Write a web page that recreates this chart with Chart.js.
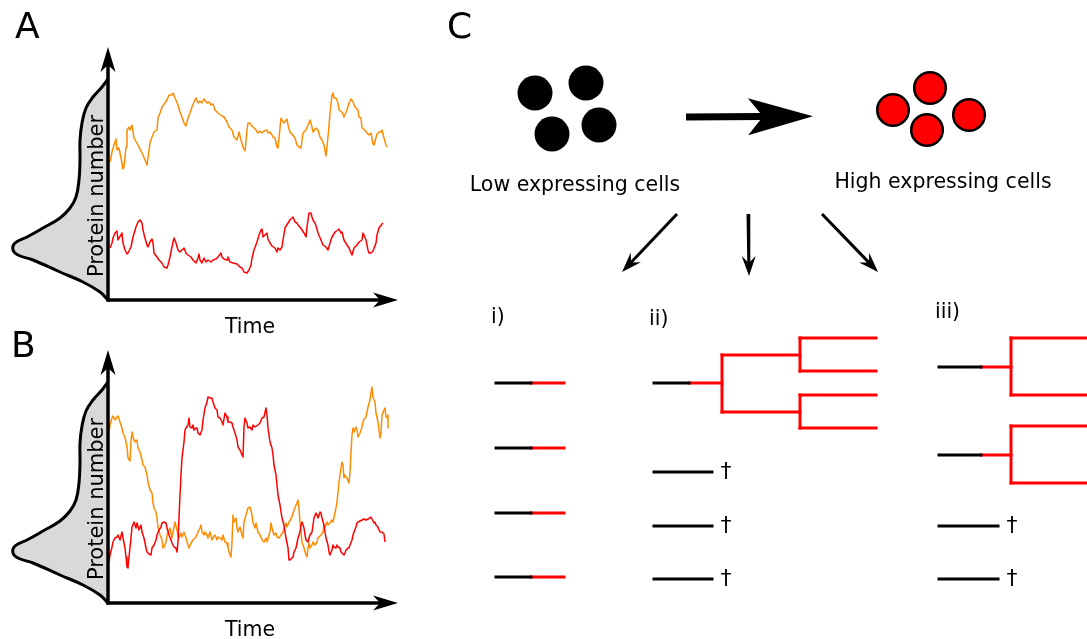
<!DOCTYPE html>
<html>
<head>
<meta charset="utf-8">
<script src="https://cdn.jsdelivr.net/npm/chart.js@4.4.0/dist/chart.umd.min.js"></script>
<style>
  html, body { margin: 0; padding: 0; background: #fff; }
  #wrap { position: relative; width: 1087px; height: 639px; }
  #wrap canvas { position: absolute; left: 0; }
</style>
</head>
<body>
<div id="wrap">
  <canvas id="figC" width="1087" height="639" style="top:0"></canvas>
  <canvas id="panelA" width="420" height="340" style="top:0"></canvas>
  <canvas id="panelB" width="420" height="340" style="top:303px"></canvas>
</div>
<script>
// ---- panels A / B : protein number vs time (time, protein) ----
const aOrange = [[2,138],[4,148],[6,155],[8,161],[9,150],[11,152],[13,142],[15,131],[16,133],[18,153],[19,170],[21,173],[22,170],[24,175],[26,162],[30,155],[34,147],[37,140],[39,135],[40,142],[42,157],[44,163],[46,168],[49,170],[50,182],[52,187],[54,193],[57,197],[59,200],[61,205],[64,205],[65,207],[67,202],[70,195],[72,188],[74,183],[76,177],[78,174],[80,182],[82,187],[84,193],[86,198],[88,202],[90,197],[92,199],[94,197],[96,201],[99,197],[101,198],[103,195],[105,196],[107,190],[110,187],[114,184],[116,183],[119,178],[121,173],[124,170],[126,163],[129,160],[131,168],[133,160],[135,153],[137,149],[139,170],[140,177],[142,177],[143,175],[145,173],[148,170],[150,167],[152,169],[154,167],[156,169],[159,170],[160,167],[162,168],[164,165],[165,163],[167,162],[169,153],[170,152],[171,162],[173,182],[174,180],[176,177],[179,181],[180,175],[182,168],[184,166],[187,162],[189,155],[191,153],[193,152],[195,167],[198,170],[200,175],[202,180],[204,173],[205,168],[208,172],[210,170],[212,163],[214,160],[216,155],[218,144],[219,153],[221,174],[222,187],[224,205],[225,207],[226,202],[228,202],[230,197],[231,190],[234,188],[236,183],[239,190],[241,197],[243,201],[245,198],[247,193],[250,190],[251,183],[253,182],[254,172],[257,170],[259,167],[261,165],[263,167],[265,156],[266,155],[269,166],[271,168],[273,168],[274,170],[276,162],[278,155],[279,153]];
const aRed = [[2,52],[4,57],[5,62],[7,67],[9,69],[10,60],[11,62],[13,65],[14,67],[15,57],[17,50],[19,46],[20,47],[23,53],[25,63],[28,73],[30,78],[32,80],[34,77],[35,70],[37,62],[39,55],[40,53],[42,58],[44,61],[45,57],[46,47],[49,43],[51,40],[54,37],[56,33],[59,32],[60,35],[62,43],[64,53],[66,62],[68,57],[70,50],[72,48],[74,50],[76,52],[78,47],[80,45],[83,43],[85,40],[88,37],[90,42],[91,46],[92,40],[94,37],[96,42],[98,38],[100,40],[103,38],[105,40],[108,41],[110,43],[113,47],[114,43],[116,41],[119,40],[120,43],[122,38],[125,37],[129,36],[132,33],[134,32],[136,28],[139,27],[141,30],[143,35],[144,42],[146,50],[149,58],[151,65],[153,70],[154,71],[155,63],[157,65],[159,67],[160,61],[162,57],[164,54],[167,52],[169,48],[170,52],[172,50],[174,53],[175,60],[177,72],[180,77],[182,80],[184,82],[185,83],[187,78],[189,77],[190,75],[192,73],[194,70],[196,67],[198,63],[199,73],[201,87],[203,87],[204,83],[205,80],[207,77],[209,71],[210,67],[213,60],[215,55],[218,53],[220,50],[222,57],[224,63],[227,68],[230,70],[231,71],[233,67],[234,68],[236,60],[239,55],[241,52],[243,47],[244,45],[246,52],[249,55],[251,58],[254,60],[255,67],[256,65],[258,60],[260,50],[261,47],[263,47],[265,49],[268,57],[269,65],[271,72],[274,76],[275,77]];
const bOrange = [[1,170],[2,178],[4,185],[5,187],[7,183],[9,186],[10,187],[12,181],[14,175],[15,170],[17,166],[19,156],[20,145],[22,142],[23,161],[24,171],[25,166],[27,161],[29,163],[30,155],[32,151],[34,143],[35,138],[37,136],[39,128],[40,121],[42,113],[44,110],[45,100],[46,95],[48,91],[49,85],[50,76],[52,68],[54,63],[55,55],[56,56],[58,61],[59,68],[60,71],[62,75],[64,65],[65,71],[67,81],[69,73],[70,68],[71,65],[73,70],[74,66],[76,71],[78,65],[80,58],[81,55],[83,60],[85,63],[88,66],[90,71],[92,75],[93,78],[94,71],[96,68],[97,71],[99,68],[100,65],[102,71],[104,63],[105,65],[107,68],[109,63],[110,66],[112,65],[114,63],[115,68],[117,61],[119,60],[120,55],[122,48],[123,46],[124,61],[125,88],[126,81],[128,85],[129,75],[130,71],[132,76],[134,68],[135,65],[136,81],[138,88],[140,95],[142,96],[144,88],[145,80],[147,75],[148,80],[150,71],[152,68],[154,63],[156,61],[158,65],[159,61],[161,68],[162,71],[163,80],[164,75],[166,68],[168,70],[169,66],[171,65],[173,68],[175,71],[176,75],[178,80],[179,76],[181,81],[184,86],[186,93],[189,100],[190,103],[191,95],[192,81],[193,71],[194,61],[196,55],[198,48],[199,46],[200,55],[201,60],[202,55],[204,58],[205,61],[207,58],[209,61],[210,65],[213,68],[215,71],[216,78],[217,76],[219,81],[220,78],[222,80],[224,83],[225,81],[227,90],[228,95],[229,101],[230,111],[231,121],[233,135],[234,141],[235,138],[236,125],[237,128],[238,126],[239,125],[241,120],[242,131],[243,151],[244,168],[245,175],[246,171],[248,176],[249,173],[250,166],[251,168],[252,170],[254,176],[255,181],[256,184],[258,186],[259,191],[260,196],[262,203],[263,210],[264,216],[265,206],[266,203],[267,201],[268,190],[270,181],[271,173],[272,165],[273,170],[274,188],[276,193],[277,195],[278,186],[279,185],[280,188],[280,175]];
const bRed = [[1,41],[2,48],[4,56],[5,61],[7,65],[9,66],[10,68],[12,63],[14,71],[15,65],[17,55],[18,46],[19,36],[20,35],[21,46],[23,65],[24,76],[26,81],[28,75],[29,80],[31,73],[33,78],[34,71],[36,65],[38,55],[39,51],[41,49],[43,48],[44,55],[46,58],[48,63],[49,68],[51,73],[53,76],[54,80],[56,81],[58,80],[59,75],[61,68],[63,63],[64,60],[66,56],[68,55],[69,51],[70,61],[71,85],[72,108],[73,128],[74,145],[76,161],[77,173],[78,175],[80,178],[81,185],[82,176],[84,175],[85,178],[86,173],[88,175],[89,175],[90,170],[92,168],[94,173],[95,183],[97,195],[99,201],[100,206],[102,205],[104,205],[105,201],[107,195],[109,193],[110,186],[112,185],[114,181],[115,178],[117,190],[119,186],[120,181],[122,181],[124,180],[125,176],[127,170],[129,163],[130,156],[132,153],[134,148],[135,146],[136,176],[137,185],[139,180],[140,175],[142,176],[144,173],[145,178],[147,176],[150,178],[152,180],[154,185],[156,186],[158,195],[159,188],[160,175],[161,168],[162,161],[164,155],[165,148],[166,138],[168,128],[169,118],[170,108],[172,98],[173,91],[174,85],[176,78],[177,71],[178,65],[180,55],[181,43],[182,43],[184,45],[185,46],[186,51],[188,55],[189,60],[190,65],[192,71],[193,78],[194,81],[196,75],[197,68],[198,63],[200,61],[201,65],[202,68],[204,71],[205,78],[206,85],[208,90],[209,88],[210,85],[212,91],[213,90],[214,85],[216,78],[217,71],[218,65],[220,58],[221,51],[222,48],[224,53],[225,58],[226,56],[228,55],[229,58],[230,56],[232,55],[233,51],[234,50],[236,48],[237,50],[238,53],[240,55],[241,55],[242,58],[244,63],[245,68],[246,71],[248,76],[249,80],[250,81],[252,82],[254,83],[256,84],[258,83],[260,84],[262,85],[263,86],[264,84],[266,80],[267,81],[268,78],[270,76],[271,73],[272,71],[274,71],[275,70],[276,69],[277,61]];

// stationary distribution drawn sideways on the protein axis
const densityW = [0,8,25,48,75,90,95,93,81,65,48,38,32,29,28,28,26,22,15,6,0];
const densityP = [0,8,18,28,40,45,50,57,63,72,82,92,103,120,140,160,177,192,203,213,221];
// axis shafts stop where the arrow heads begin
const timeEnd = 272;
const proteinTop = 235;

// ---- panel C schematic ----
const lowCellX = [535, 586, 552, 599];
const lowCellY = [93, 83, 134, 125];
const highCellX = [930, 893, 969, 927];
const highCellY = [88, 110, 115, 130];

// i) all lineages switch: black part, then red part
const switchRows = [383, 448, 513, 577];
const switchX = [495, 531, 565];
// ii) one lineage switches and divides twice, the rest die
const growX = [653, 689, 722, 800, 877];
const growRoot = 383;
const growSplit1 = [355, 412];
const growSplit2 = [[338, 371], [395, 428]];
const dieRows2 = [472, 526, 579];
const dieX2 = [653, 713, 726];
// iii) two lineages switch and divide once
const branchX = [938, 981, 1011, 1090];
const branchRoots = [367, 455];
const branchSplit = [[338, 395], [426, 483]];
const dieRows3 = [526, 579];
const dieX3 = [938, 999, 1012];

const FONT = '"DejaVu Sans", sans-serif';
const RED = '#ff0000';
const ORANGE = '#ff8c00';

// head = [length, half width, notch depth]; the shaft ends in the notch
function arrowHead(ctx, end, from, len, half, notch, color) {
  const ang = Math.atan2(end.y - from.y, end.x - from.x);
  ctx.save();
  ctx.translate(end.x, end.y);
  ctx.rotate(ang);
  ctx.translate(notch, 0);
  ctx.beginPath();
  ctx.moveTo(0, 0);
  ctx.lineTo(-len, -half);
  ctx.lineTo(-notch, 0);
  ctx.lineTo(-len, half);
  ctx.closePath();
  ctx.fillStyle = color;
  ctx.fill();
  ctx.restore();
}

const arrowHeads = {
  id: 'arrowHeads',
  afterDatasetsDraw(chart) {
    chart.data.datasets.forEach((ds, i) => {
      if (!ds.head) return;
      const pts = chart.getDatasetMeta(i).data;
      arrowHead(chart.ctx, pts[pts.length - 1], pts[pts.length - 2], ds.head[0], ds.head[1], ds.head[2], ds.borderColor);
    });
  }
};

function textLayer(items) {
  return {
    id: 'textLayer',
    afterDraw(chart) {
      const ctx = chart.ctx, xs = chart.scales.x, ys = chart.scales.y;
      items.forEach(t => {
        ctx.save();
        ctx.translate(xs.getPixelForValue(t.x), ys.getPixelForValue(t.y));
        if (t.rot) ctx.rotate(t.rot);
        ctx.font = (t.size || 20.5) + 'px ' + FONT;
        ctx.fillStyle = '#000';
        ctx.textAlign = t.align || 'center';
        ctx.textBaseline = t.base || 'alphabetic';
        ctx.fillText(t.text, 0, 0);
        ctx.restore();
      });
    }
  };
}

const baseOptions = (xmin, xmax, ymin, ymax, rev) => ({
  responsive: false,
  animation: false,
  events: [],
  layout: { padding: 0, autoPadding: false },
  plugins: { legend: { display: false }, tooltip: { enabled: false } },
  scales: {
    x: { type: 'linear', display: false, min: xmin, max: xmax },
    y: { type: 'linear', display: false, min: ymin, max: ymax, reverse: !!rev }
  }
});

const toXY = arr => arr.map(p => ({ x: p[0], y: p[1] }));

function line(points, color, width, extra) {
  return Object.assign({
    data: points, showLine: true, pointRadius: 0,
    borderColor: color, borderWidth: width, fill: false
  }, extra || {});
}

function panel(id, orange, red) {
  return new Chart(document.getElementById(id), {
    type: 'scatter',
    data: {
      datasets: [
        line([{ x: 0, y: -1.5 }, { x: 0, y: proteinTop }], '#000', 3.5, { head: [25, 7.5, 18] }),
        line([{ x: -1.5, y: 0 }, { x: timeEnd, y: 0 }], '#000', 3.5, { head: [25, 7.5, 18] }),
        line(toXY(red), RED, 1.5, { borderJoinStyle: 'round' }),
        line(toXY(orange), ORANGE, 1.5, { borderJoinStyle: 'round' }),
        line(densityW.map((w, i) => ({ x: -w, y: densityP[i] })), '#000', 3,
             { fill: 'shape', backgroundColor: '#d9d9d9', tension: 0.4 })
      ]
    },
    options: baseOptions(-108, 312, -40, 300),
    plugins: [arrowHeads, textLayer([
      { text: 'Time', x: 142, y: -33 },
      { text: 'Protein number', x: -5, y: 104, rot: -Math.PI / 2, size: 21 }
    ])]
  });
}

panel('panelA', aOrange, aRed);
panel('panelB', bOrange, bRed);

// schematic lineages
const sketch = [];
const seg = (x1, y1, x2, y2, c) => sketch.push(line([{ x: x1, y: y1 }, { x: x2, y: y2 }], c, 3, { borderCapStyle: 'square' }));

switchRows.forEach(y => { seg(switchX[0] + 1, y, switchX[1], y, '#000'); seg(switchX[1], y, switchX[2] - 1, y, RED); });

seg(growX[0] + 1, growRoot, growX[1], growRoot, '#000');
seg(growX[1], growRoot, growX[2], growRoot, RED);
seg(growX[2], growSplit1[0], growX[2], growSplit1[1], RED);
growSplit1.forEach((y, k) => {
  seg(growX[2], y, growX[3], y, RED);
  seg(growX[3], growSplit2[k][0], growX[3], growSplit2[k][1], RED);
  growSplit2[k].forEach(y2 => seg(growX[3], y2, growX[4] - 1, y2, RED));
});
dieRows2.forEach(y => seg(dieX2[0] + 1, y, dieX2[1] - 1, y, '#000'));

branchRoots.forEach((y, k) => {
  seg(branchX[0] + 1, y, branchX[1], y, '#000');
  seg(branchX[1], y, branchX[2], y, RED);
  seg(branchX[2], branchSplit[k][0], branchX[2], branchSplit[k][1], RED);
  branchSplit[k].forEach(y2 => seg(branchX[2], y2, branchX[3], y2, RED));
});
dieRows3.forEach(y => seg(dieX3[0] + 1, y, dieX3[1] - 1, y, '#000'));

const labelsC = [
  { text: 'A', x: 15, y: 38, size: 36, align: 'left' },
  { text: 'B', x: 11, y: 357, size: 36, align: 'left' },
  { text: 'C', x: 447, y: 38, size: 36, align: 'left' },
  { text: 'Low expressing cells', x: 575, y: 191 },
  { text: 'High expressing cells', x: 943, y: 188 },
  { text: 'i)', x: 491, y: 323, align: 'left' },
  { text: 'ii)', x: 649, y: 325, align: 'left' },
  { text: 'iii)', x: 935, y: 318, align: 'left' }
];
dieRows2.forEach(y => labelsC.push({ text: '\u2020', x: dieX2[2], y: y, base: 'middle', size: 22 }));
dieRows3.forEach(y => labelsC.push({ text: '\u2020', x: dieX3[2], y: y, base: 'middle', size: 22 }));

new Chart(document.getElementById('figC'), {
  type: 'scatter',
  data: {
    datasets: [
      { data: lowCellX.map((x, i) => ({ x, y: lowCellY[i] })), pointRadius: 17.5, pointBackgroundColor: '#000', pointBorderWidth: 0 },
      { data: highCellX.map((x, i) => ({ x, y: highCellY[i] })), pointRadius: 15.8, pointBackgroundColor: RED, pointBorderColor: '#000', pointBorderWidth: 2.5 },
      line([{ x: 686, y: 117 }, { x: 763, y: 116.6 }], '#000', 7, { head: [65, 18.5, 50] }),
      line([{ x: 677, y: 214 }, { x: 631, y: 262.5 }], '#000', 3, { head: [20, 7, 13] }),
      line([{ x: 748, y: 214 }, { x: 748.8, y: 263 }], '#000', 3, { head: [20, 7, 13] }),
      line([{ x: 822, y: 214 }, { x: 869, y: 262.6 }], '#000', 3, { head: [20, 7, 13] }),
      ...sketch
    ]
  },
  options: baseOptions(0, 1087, 0, 639, true),
  plugins: [arrowHeads, textLayer(labelsC)]
});
</script>
</body>
</html>
